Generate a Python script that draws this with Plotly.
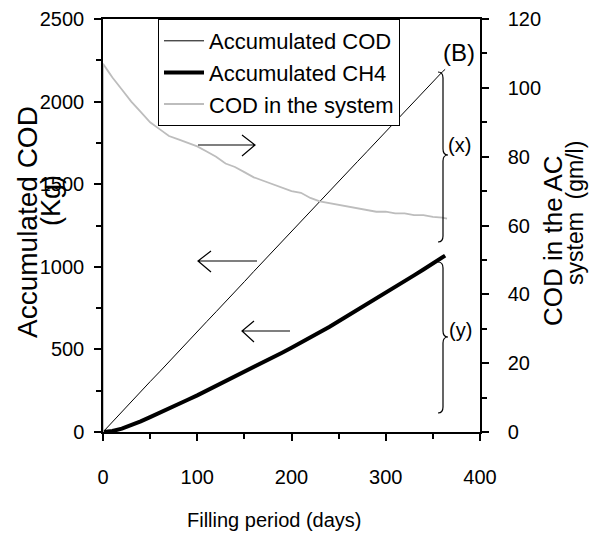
import plotly.graph_objects as go

# ---------------- data ----------------
days = [0, 10, 20, 30, 40, 50, 60, 70, 80, 90, 100, 110, 120, 130, 140, 150, 160, 170, 180,
        190, 200, 210, 220, 230, 240, 250, 260, 270, 280, 290, 300, 310, 320, 330, 340, 350, 360, 363]
acc_cod = [0, 62, 122, 184, 243, 305, 364, 426, 486, 545, 606, 668, 728, 787, 850, 910, 972, 1033,
           1092, 1152, 1213, 1274, 1333, 1394, 1455, 1515, 1577, 1637, 1697, 1758, 1818, 1880, 1940,
           2000, 2061, 2120, 2180, 2195]
acc_ch4 = [0, 6, 20, 40, 64, 90, 115, 140, 168, 195, 222, 250, 278, 306, 334, 362, 390, 420, 450,
           480, 510, 540, 572, 604, 636, 670, 704, 738, 772, 806, 841, 876, 912, 948, 984, 1020, 1056, 1068]
sys_days = [0, 0, 5, 10, 20, 30, 40, 50, 60, 70, 80, 90, 100, 110, 120, 130, 140, 150, 160, 170, 180,
            190, 200, 210, 220, 230, 240, 250, 260, 270, 280, 290, 300, 310, 320, 330, 340, 350, 360, 365]
cod_sys = [0, 107, 105, 103, 99.5, 96, 93, 90, 88, 86, 85, 84, 83, 81.5, 80, 78, 77, 75.5, 74, 73, 72,
           71, 70, 69.5, 68, 67, 66.5, 66, 65.5, 65, 64.5, 64, 64, 63.5, 63.5, 63, 63, 62.5, 62.3, 62]

x_ticks = [0, 100, 200, 300, 400]
y_ticks = [0, 500, 1000, 1500, 2000, 2500]
y2_ticks = [0, 20, 40, 60, 80, 100, 120]

SANS = "Liberation Sans, Arial, sans-serif"

# page body has an 8px margin: figure is drawn 8px right/down of the window origin
OFF = 8
W, H = 597 - OFF, 544 - OFF
# target plot area in window pixels: x 103..480, y 19..432
PL, PR, PT, PB = 103, 480, 19, 432
L, R, T, B = PL - OFF, W - (PR - OFF), PT - OFF, H - (PB - OFF)
PW, PH = PR - PL, PB - PT


def px(xp):  # window pixel -> paper x
    return (xp - PL) / PW


def py(yp):  # window pixel -> paper y
    return (PB - yp) / PH


fig = go.Figure()
fig.add_trace(go.Scatter(x=days, y=acc_cod, mode="lines", name="Accumulated COD",
                         line=dict(color="black", width=1)))
fig.add_trace(go.Scatter(x=days, y=acc_ch4, mode="lines", name="Accumulated CH4",
                         line=dict(color="black", width=4)))
fig.add_trace(go.Scatter(x=sys_days, y=cod_sys, mode="lines", name="COD in the system",
                         line=dict(color="#bdbdbd", width=1.8), yaxis="y2"))

axis_common = dict(showline=True, linecolor="black", linewidth=1.5, ticks="outside",
                   tickcolor="black", tickwidth=1.5, ticklen=7, showgrid=False, zeroline=False,
                   automargin=False,
                   tickfont=dict(family=SANS, size=20, color="black"))

fig.update_layout(
    width=W, height=H,
    autosize=False,
    margin=dict(l=L, r=R, t=T, b=B, pad=0, autoexpand=False),
    paper_bgcolor="white", plot_bgcolor="white",
    showlegend=True,
    legend=dict(x=px(158), y=1, xanchor="left", yanchor="top",
                bordercolor="black", borderwidth=1, bgcolor="white",
                font=dict(family=SANS, size=22, color="black"),
                tracegroupgap=0, itemwidth=40),
    xaxis=dict(range=[0, 400], tickvals=x_ticks, mirror=True, ticklabelstandoff=19,
               minor=dict(dtick=50, ticks="outside", ticklen=5, tickcolor="black", tickwidth=1.5),
               **axis_common),
    yaxis=dict(range=[0, 2500], tickvals=y_ticks, ticklabelstandoff=6, layer="below traces",
               minor=dict(dtick=250, ticks="outside", ticklen=5, tickcolor="black", tickwidth=1.5),
               **axis_common),
    yaxis2=dict(range=[0, 120], tickvals=y2_ticks, overlaying="y", side="right", ticklabelstandoff=15,
                minor=dict(dtick=10, ticks="outside", ticklen=5, tickcolor="black", tickwidth=1.5),
                **axis_common),
)

annos = []


def text(t, xp, ypix, size, angle=0):
    annos.append(dict(text=t, x=px(xp), y=py(ypix), xref="paper", yref="paper",
                      showarrow=False, textangle=angle, xanchor="center", yanchor="middle",
                      font=dict(family=SANS, size=size, color="black")))


text("Filling period (days)", 274, 520, 20)
text("Accumulated COD", 27, 222, 28, -90)
text("(Kg)", 51, 201, 27, -90)
text("COD in the AC", 553, 241, 26, -90)
text("system  (gm/l)", 575, 213, 23, -90)
text("(B)", 459, 53, 24)
text("(x)", 459, 145, 20)
text("(y)", 460, 330, 20)
fig.update_layout(annotations=annos)

shapes = []


def path(cmds):
    shapes.append(dict(type="path", path=cmds, xref="paper", yref="paper",
                       line=dict(color="black", width=1.2)))


def P(xp, ypix):
    return f"{px(xp):.5f},{py(ypix):.5f}"


# arrows
path(f"M{P(198,145)} L{P(255,145)} M{P(242,135)} L{P(255,145)} L{P(242,156)}")
path(f"M{P(257,261)} L{P(198,261)} M{P(211,251)} L{P(198,261)} L{P(211,272)}")
path(f"M{P(290,331)} L{P(242,331)} M{P(254,321)} L{P(242,331)} L{P(254,342)}")
# braces
path(f"M{P(438,72)} Q{P(443,72)} {P(443,78)} L{P(443,149)} Q{P(443,155)} {P(448,155)} "
     f"Q{P(443,155)} {P(443,161)} L{P(443,236)} Q{P(443,242)} {P(438,242)}")
path(f"M{P(438,262)} Q{P(443,262)} {P(443,268)} L{P(443,331)} Q{P(443,337)} {P(448,337)} "
     f"Q{P(443,337)} {P(443,343)} L{P(443,407)} Q{P(443,413)} {P(438,413)}")
fig.update_layout(shapes=shapes)

fig.write_html("out.html")
